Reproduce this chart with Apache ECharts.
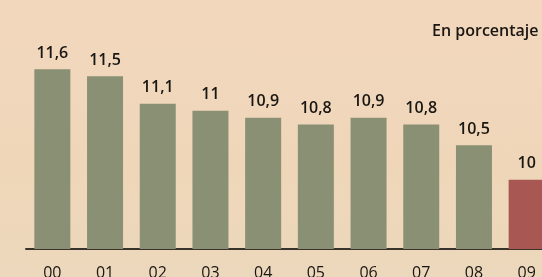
<!DOCTYPE html>
<html lang="es">
<head>
<meta charset="UTF-8">
<title>En porcentaje</title>
<style>
    body { margin: 0; overflow: hidden; background: #efd7bb; }
    /* el gráfico original está recortado a la derecha: el lienzo es más ancho que la ventana */
    #chart { width: 553px; height: 277px; background: linear-gradient(180deg, #f2d7bd 0%, #efd6b9 60%, #ecd8bc 100%); }
</style>
</head>
<body>
<div id="chart"></div>
<script src="https://cdn.jsdelivr.net/npm/echarts@6/dist/echarts.min.js"></script>
<script>
    // años (00..09) y valores en porcentaje
    var years = ['00', '01', '02', '03', '04', '05', '06', '07', '08', '09'];
    var values = [11.6, 11.5, 11.1, 11, 10.9, 10.8, 10.9, 10.8, 10.5, 10];
    var highlight = '09';

    var green = '#8a9073',
        red = '#a95752',
        ink = '#1a1612';

    var chart = echarts.init(document.getElementById('chart'));

    var option = {
        animation: false,
        grid: { left: 26, right: 0, top: 7, bottom: 28, outerBoundsMode: 'none' },
        graphic: [{
            type: 'text',
            left: 432,
            top: 23,
            style: {
                text: 'En porcentaje',
                font: '600 16px "Open Sans"',
                fill: ink
            }
        }],
        xAxis: {
            type: 'category',
            data: years,
            axisLine: { lineStyle: { color: '#3a332c', width: 2 } },
            axisTick: { show: false },
            axisLabel: {
                color: ink,
                fontSize: 16,
                fontFamily: 'Open Sans',
                margin: 16
            }
        },
        yAxis: {
            type: 'value',
            min: 9,
            max: 12.5,
            show: false,
            splitLine: { show: false }
        },
        series: [{
            type: 'bar',
            barWidth: 36,
            data: values.map(function (v, i) {
                return {
                    value: v,
                    itemStyle: { color: years[i] === highlight ? red : green }
                };
            }),
            label: {
                show: true,
                position: 'top',
                distance: 8,
                color: ink,
                fontSize: 16,
                fontWeight: 600,
                fontFamily: 'Open Sans',
                formatter: function (p) {
                    return String(p.value).replace('.', ',');
                }
            }
        }]
    };

    chart.setOption(option);
</script>
</body>
</html>
